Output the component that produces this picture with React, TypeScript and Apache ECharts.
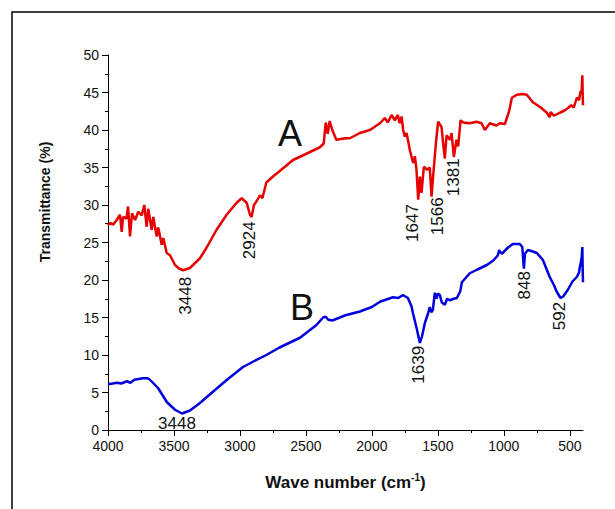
import React, { useEffect, useRef } from 'react';
import * as echarts from 'echarts';

const FONT = '"Liberation Sans", Arial, Helvetica, sans-serif';

const majorWaveTicks = [4000, 3500, 3000, 2500, 2000, 1500, 1000, 500];
const minorWaveTicks = [3750, 3250, 2750, 2250, 1750, 1250, 750];

const waveA = [4000, 3985, 3960, 3934, 3909, 3896, 3886, 3860, 3848, 3833, 3818, 3795, 3770, 3745, 3725, 3707, 3695, 3669, 3657, 3631, 3619, 3593, 3581, 3555, 3530, 3492, 3460, 3429, 3379, 3303, 3250, 3177, 3101, 3025, 2987, 2949, 2924, 2912, 2894, 2874, 2848, 2830, 2800, 2750, 2700, 2598, 2500, 2394, 2365, 2350, 2335, 2320, 2300, 2270, 2200, 2167, 2091, 2015, 1939, 1902, 1879, 1851, 1826, 1803, 1790, 1775, 1763, 1750, 1737, 1712, 1687, 1674, 1662, 1649, 1636, 1624, 1606, 1581, 1561, 1548, 1536, 1515, 1498, 1472, 1460, 1447, 1434, 1409, 1396, 1379, 1359, 1346, 1328, 1308, 1258, 1207, 1169, 1144, 1106, 1056, 1030, 992, 960, 939, 902, 860, 826, 780, 720, 674, 652, 645, 620, 576, 540, 515, 490, 470, 447, 430, 420, 410, 405, 402, 400];
const transA = [27.3, 27.6, 27.4, 28.0, 28.7, 26.4, 28.4, 28.2, 29.8, 25.8, 28.9, 28.0, 29.1, 28.6, 30.0, 27.1, 29.5, 26.7, 28.4, 25.8, 27.0, 24.7, 25.6, 23.6, 23.3, 22.0, 21.5, 21.3, 21.6, 22.9, 24.4, 26.7, 28.7, 30.3, 30.9, 30.3, 28.7, 28.4, 30.0, 30.5, 31.3, 30.9, 33.0, 33.8, 34.5, 36.0, 36.8, 37.7, 38.2, 41.0, 39.5, 41.2, 40.0, 38.7, 38.9, 38.9, 39.6, 40.0, 40.9, 41.6, 41.0, 42.0, 41.3, 42.0, 40.9, 41.8, 40.0, 39.1, 39.6, 37.3, 35.6, 36.5, 34.7, 30.7, 33.8, 31.6, 35.1, 34.7, 35.0, 31.1, 33.8, 38.2, 41.1, 40.4, 38.2, 36.2, 39.3, 38.7, 39.6, 36.4, 38.7, 37.8, 41.3, 41.0, 40.9, 41.1, 40.9, 40.0, 40.9, 40.6, 40.9, 40.8, 42.5, 44.3, 44.7, 44.8, 44.7, 43.7, 43.0, 42.3, 41.7, 42.4, 41.9, 42.3, 42.6, 42.9, 43.3, 43.0, 44.3, 44.0, 45.0, 45.3, 47.3, 44.5, 43.3];

const waveB = [4000, 3930, 3900, 3856, 3830, 3800, 3735, 3700, 3682, 3621, 3553, 3492, 3439, 3379, 3303, 3205, 3098, 2977, 2902, 2800, 2700, 2545, 2420, 2370, 2350, 2330, 2300, 2200, 2091, 2000, 1939, 1841, 1800, 1765, 1727, 1700, 1689, 1660, 1636, 1620, 1598, 1575, 1561, 1550, 1538, 1523, 1510, 1500, 1485, 1470, 1447, 1430, 1409, 1380, 1356, 1330, 1318, 1258, 1200, 1129, 1080, 1045, 1035, 1030, 1015, 970, 932, 879, 860, 848, 840, 818, 780, 750, 705, 652, 620, 598, 570, 550, 515, 480, 447, 430, 424, 415, 410, 405, 402, 400];
const transB = [6.1, 6.3, 6.2, 6.5, 6.3, 6.7, 6.9, 6.9, 6.7, 5.6, 3.7, 2.7, 2.2, 2.6, 3.6, 5.1, 6.7, 8.4, 9.1, 10.0, 11.0, 12.3, 14.0, 15.0, 15.1, 14.7, 14.6, 15.3, 15.8, 16.4, 17.1, 17.7, 17.6, 18.0, 17.6, 16.5, 15.6, 13.5, 11.6, 12.5, 14.3, 15.5, 16.4, 15.7, 16.0, 18.3, 17.5, 18.2, 18.0, 17.0, 16.7, 17.5, 17.3, 17.5, 17.6, 18.5, 19.7, 20.9, 21.4, 22.0, 22.6, 23.3, 24.0, 23.8, 23.5, 24.3, 24.8, 24.8, 24.4, 21.5, 23.5, 24.0, 23.8, 23.6, 22.7, 20.4, 19.3, 18.4, 17.6, 17.8, 18.7, 19.8, 20.4, 21.0, 21.7, 22.5, 23.0, 24.4, 21.0, 19.7];

// annotation texts anchored at data coordinates (label centre)
const annotations = [
  { text: 'A', wave: 2621, value: 39.5, size: 36, rotate: false },
  { text: 'B', wave: 2530, value: 16.3, size: 36, rotate: false },
  { text: '3448', wave: 3409, value: 17.9, size: 17, rotate: true },
  { text: '2924', wave: 2924, value: 25.3, size: 17, rotate: true },
  { text: '1647', wave: 1689, value: 27.6, size: 17, rotate: true },
  { text: '1566', wave: 1500, value: 28.5, size: 17, rotate: true },
  { text: '1381', wave: 1379, value: 33.7, size: 17, rotate: true },
  { text: '1639', wave: 1644, value: 8.7, size: 17, rotate: true },
  { text: '848', wave: 841, value: 19.3, size: 17, rotate: true },
  { text: '592', wave: 576, value: 15.2, size: 17, rotate: true },
  { text: '3448', wave: 3477, value: 0.9, size: 17, rotate: false },
];

const zip = (xs: number[], ys: number[]) => xs.map((x, i) => [x, ys[i]]);

export default function App() {
  const ref = useRef<HTMLDivElement>(null);
  useEffect(() => {
    const chart = echarts.init(ref.current!, null, { renderer: 'svg' });
    const axisLine = { show: true, lineStyle: { color: '#000', width: 1 } };
    chart.setOption({
      animation: false,
      backgroundColor: '#fff',
      grid: { left: 108, right: 32, top: 55, bottom: 79, containLabel: false },
      xAxis: [
        {
          type: 'value', min: 400, max: 4000, inverse: true, position: 'bottom',
          axisLine,
          axisTick: { show: true, inside: false, length: 6, customValues: majorWaveTicks, lineStyle: { color: '#000' } },
          axisLabel: { customValues: majorWaveTicks, formatter: (v: number) => String(v), fontSize: 14, color: '#111', fontFamily: FONT, margin: 9 },
          splitLine: { show: false },
          name: 'Wave number (cm{sup|-1})',
          nameLocation: 'middle',
          nameGap: 42,
          nameTextStyle: {
            fontSize: 17, fontWeight: 'bold', color: '#111', fontFamily: FONT,
            rich: { sup: { fontSize: 10, fontWeight: 'bold', color: '#111', fontFamily: FONT, verticalAlign: 'top', padding: [0, 0, 10, 0] } },
          },
        },
        {
          type: 'value', min: 400, max: 4000, inverse: true, position: 'bottom',
          axisLine: { show: false },
          axisTick: { show: true, inside: false, length: 3, customValues: minorWaveTicks, lineStyle: { color: '#000' } },
          axisLabel: { show: false },
          splitLine: { show: false },
        },
      ],
      yAxis: {
        type: 'value', min: 0, max: 50, interval: 5,
        axisLine,
        axisTick: { show: true, inside: false, length: 6, lineStyle: { color: '#000' } },
        minorTick: { show: true, splitNumber: 2, length: 3, lineStyle: { color: '#000' } },
        axisLabel: { fontSize: 14, color: '#111', fontFamily: FONT, margin: 9 },
        splitLine: { show: false },
        minorSplitLine: { show: false },
      },
      series: [
        { type: 'line', name: 'A', data: zip(waveA, transA), showSymbol: false, lineStyle: { color: '#e60000', width: 2.5 }, itemStyle: { color: '#e60000' } },
        { type: 'line', name: 'B', data: zip(waveB, transB), showSymbol: false, lineStyle: { color: '#0000dd', width: 2.5 }, itemStyle: { color: '#0000dd' } },
      ],
    });
    const texts = annotations.map((a) => {
      const p = chart.convertToPixel({ seriesIndex: 0 }, [a.wave, a.value]) as number[];
      return {
        type: 'text', x: p[0], y: p[1], rotation: a.rotate ? Math.PI / 2 : 0, silent: true,
        style: { text: a.text, fontSize: a.size, fontFamily: FONT, fill: '#111', align: 'center', verticalAlign: 'middle' },
      };
    });
    chart.setOption({
      graphic: [
        { type: 'rect', silent: true, shape: { x: 12, y: 12, width: 700, height: 600 }, style: { fill: 'none', stroke: '#000', lineWidth: 1.5 } },
        { type: 'text', silent: true, x: 45, y: 202, rotation: Math.PI / 2, style: { text: 'Transmittance (%)', fontSize: 14, fontWeight: 'bold', fontFamily: FONT, fill: '#111', align: 'center', verticalAlign: 'middle' } },
        ...texts,
      ],
    });
    return () => chart.dispose();
  }, []);
  return <div ref={ref} style={{ position: 'fixed', left: 0, top: 0, width: 615, height: 509 }} />;
}
